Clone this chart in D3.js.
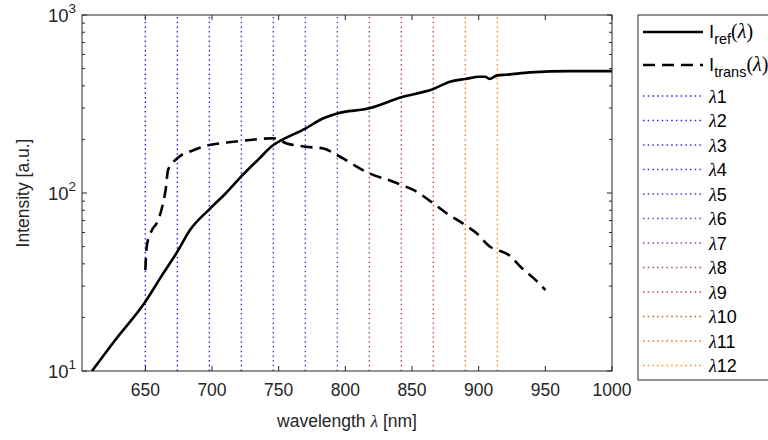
<!DOCTYPE html>
<html>
<head>
<meta charset="utf-8">
<script src="https://cdn.jsdelivr.net/npm/d3@7"></script>
<style>
  html, body { margin: 0; padding: 0; background: #fff; }
  svg { display: block; }
</style>
</head>
<body>
<svg id="chart" width="768" height="440"></svg>
<script>
// ---- data ----
const refWavelength = [610, 627, 650, 662, 674, 683.5, 698, 710, 722, 735, 746, 751, 770, 783.5, 794, 818, 842, 866, 878.5, 890, 901, 905, 908, 914, 921, 938.5, 968.5, 1000];
const refIntensity  = [10, 14.8, 24.5, 34, 46.8, 61.9, 81, 99, 124, 155, 186, 196, 230, 263, 280, 299, 345, 384, 422, 437, 450, 450, 437, 458, 462, 476, 484, 484];
const transWavelength = [650, 651, 655, 658.5, 662, 665.5, 667, 674, 686, 698, 711, 728.5, 746, 756, 770, 783.5, 794, 818, 836, 842, 851, 866, 876, 890, 898.5, 908.5, 914, 922.5, 932.5, 944, 950];
const transIntensity  = [36.9, 49.9, 62, 67.6, 80, 108, 134.6, 156.7, 174, 186, 192, 198.6, 203, 190, 182, 178, 163, 129, 115.7, 111, 104, 87.5, 76.9, 66, 59.4, 49.9, 47.9, 44.9, 37.8, 31.8, 28.5];
const lambdaNames = ["λ1","λ2","λ3","λ4","λ5","λ6","λ7","λ8","λ9","λ10","λ11","λ12"];
const lambdaValues = [650, 674, 698, 722, 746, 770, 794, 818, 842, 866, 890, 914];
const xTicks = [650, 700, 750, 800, 850, 900, 950, 1000];
const yTickExponents = [1, 2, 3];

// ---- styles ----
const lambdaColors = ["#2020ff","#2626f8","#3030f0","#3c34e8","#5236dc","#7038c8","#8a40b0","#a04888","#b44862","#d05834","#ee7020","#ff8a28"];
const axisColor = "#262626";
const font = "'Liberation Sans', Arial, Helvetica, sans-serif";
const serif = "'Liberation Serif', 'DejaVu Serif', serif";

const svg = d3.select("#chart");
const L = 82, R = 612, T = 15, B = 371;
const x = d3.scaleLinear().domain([602.5, 1000]).range([L, R]);
const y = d3.scaleLog().domain([10, 1000]).range([B, T]);

// lambda dotted lines
const lam = lambdaValues.map((v, i) => ({v, c: lambdaColors[i], n: lambdaNames[i]}));
svg.append("g").selectAll("line").data(lam).join("line")
  .attr("x1", d => x(d.v)).attr("x2", d => x(d.v))
  .attr("y1", B).attr("y2", T)
  .attr("stroke", d => d.c).attr("stroke-width", 1.4)
  .attr("stroke-dasharray", "1.5,3.2");

// curves
const line = d3.line().x(d => x(d[0])).y(d => y(d[1])).curve(d3.curveMonotoneX);
const refData = refWavelength.map((w, i) => [w, refIntensity[i]]);
const transData = transWavelength.map((w, i) => [w, transIntensity[i]]);
svg.append("path").datum(refData).attr("d", line)
  .attr("fill", "none").attr("stroke", "#000").attr("stroke-width", 2.6)
  .attr("stroke-linejoin", "round");
svg.append("path").datum(transData).attr("d", line)
  .attr("fill", "none").attr("stroke", "#000").attr("stroke-width", 2.6)
  .attr("stroke-dasharray", "12,7");

// axes box
svg.append("rect").attr("x", L).attr("y", T).attr("width", R - L).attr("height", B - T)
  .attr("fill", "none").attr("stroke", axisColor).attr("stroke-width", 1);

// x ticks (bottom & top, inward)
const gx = svg.append("g");
xTicks.forEach(t => {
  gx.append("line").attr("x1", x(t)).attr("x2", x(t)).attr("y1", B).attr("y2", B - 5).attr("stroke", axisColor);
  gx.append("line").attr("x1", x(t)).attr("x2", x(t)).attr("y1", T).attr("y2", T + 5).attr("stroke", axisColor);
  gx.append("text").attr("x", x(t)).attr("y", B + 25).attr("text-anchor", "middle")
    .attr("font-family", font).attr("font-size", 17.5).attr("fill", axisColor).text(t);
});

// y ticks major + minor (left & right)
const gy = svg.append("g");
for (let e = 1; e <= 2; e++) {
  for (let m = 2; m <= 9; m++) {
    const v = m * Math.pow(10, e);
    gy.append("line").attr("x1", L).attr("x2", L + 3).attr("y1", y(v)).attr("y2", y(v)).attr("stroke", axisColor);
    gy.append("line").attr("x1", R).attr("x2", R - 3).attr("y1", y(v)).attr("y2", y(v)).attr("stroke", axisColor);
  }
}
yTickExponents.forEach(e => {
  const v = Math.pow(10, e);
  gy.append("line").attr("x1", L).attr("x2", L + 5).attr("y1", y(v)).attr("y2", y(v)).attr("stroke", axisColor);
  gy.append("line").attr("x1", R).attr("x2", R - 5).attr("y1", y(v)).attr("y2", y(v)).attr("stroke", axisColor);
  const t = gy.append("text").attr("x", L - 6).attr("y", y(v) + 7).attr("text-anchor", "end")
    .attr("font-family", font).attr("font-size", 18.5).attr("fill", axisColor);
  t.append("tspan").text("10");
  t.append("tspan").attr("dy", -9).attr("font-size", 13.5).text(e);
});

// axis labels
const xl = svg.append("text").attr("x", (L + R) / 2).attr("y", 427).attr("text-anchor", "middle")
  .attr("font-family", font).attr("font-size", 17.5).attr("fill", axisColor);
xl.append("tspan").text("wavelength ");
xl.append("tspan").attr("font-family", serif).attr("font-style", "italic").text("λ");
xl.append("tspan").text(" [nm]");

svg.append("text").attr("transform", `translate(29,${(T + B) / 2}) rotate(-90)`)
  .attr("text-anchor", "middle").attr("font-family", font).attr("font-size", 17.5)
  .attr("fill", axisColor).text("Intensity [a.u.]");

// legend
const lg = svg.append("g");
lg.append("rect").attr("x", 638).attr("y", 15).attr("width", 140).attr("height", 365)
  .attr("fill", "#fff").attr("stroke", axisColor).attr("stroke-width", 1);
const sx1 = 643, sx2 = 703, tx = 709;
function intensityLabel(yy, sub) {
  const t = lg.append("text").attr("x", tx).attr("y", yy + 6).attr("font-family", font)
    .attr("font-size", 18.5).attr("fill", "#000");
  t.append("tspan").text("I");
  t.append("tspan").attr("dy", 6).attr("font-size", 14.5).text(sub);
  t.append("tspan").attr("dy", -6).attr("font-family", serif).attr("font-size", 20).text("(");
  t.append("tspan").attr("font-family", serif).attr("font-style", "italic").attr("font-size", 20).text("λ");
  t.append("tspan").attr("font-family", serif).attr("font-size", 20).text(")");
}
lg.append("line").attr("x1", sx1).attr("x2", sx2).attr("y1", 32).attr("y2", 32)
  .attr("stroke", "#000").attr("stroke-width", 2.6);
intensityLabel(32, "ref");
lg.append("line").attr("x1", sx1).attr("x2", sx2).attr("y1", 65).attr("y2", 65)
  .attr("stroke", "#000").attr("stroke-width", 2.6).attr("stroke-dasharray", "12,7");
intensityLabel(65, "trans");
lam.forEach((d, i) => {
  const yy = 96 + i * 24.5;
  lg.append("line").attr("x1", sx1).attr("x2", sx2).attr("y1", yy).attr("y2", yy)
    .attr("stroke", d.c).attr("stroke-width", 1.4).attr("stroke-dasharray", "1.5,3.2");
  const tt = lg.append("text").attr("x", tx).attr("y", yy + 6.5).attr("font-family", font)
    .attr("font-size", 18).attr("fill", "#000");
  tt.append("tspan").attr("font-family", serif).attr("font-style", "italic").text(d.n.slice(0, 1));
  tt.append("tspan").text(d.n.slice(1));
});
</script>
</body>
</html>
